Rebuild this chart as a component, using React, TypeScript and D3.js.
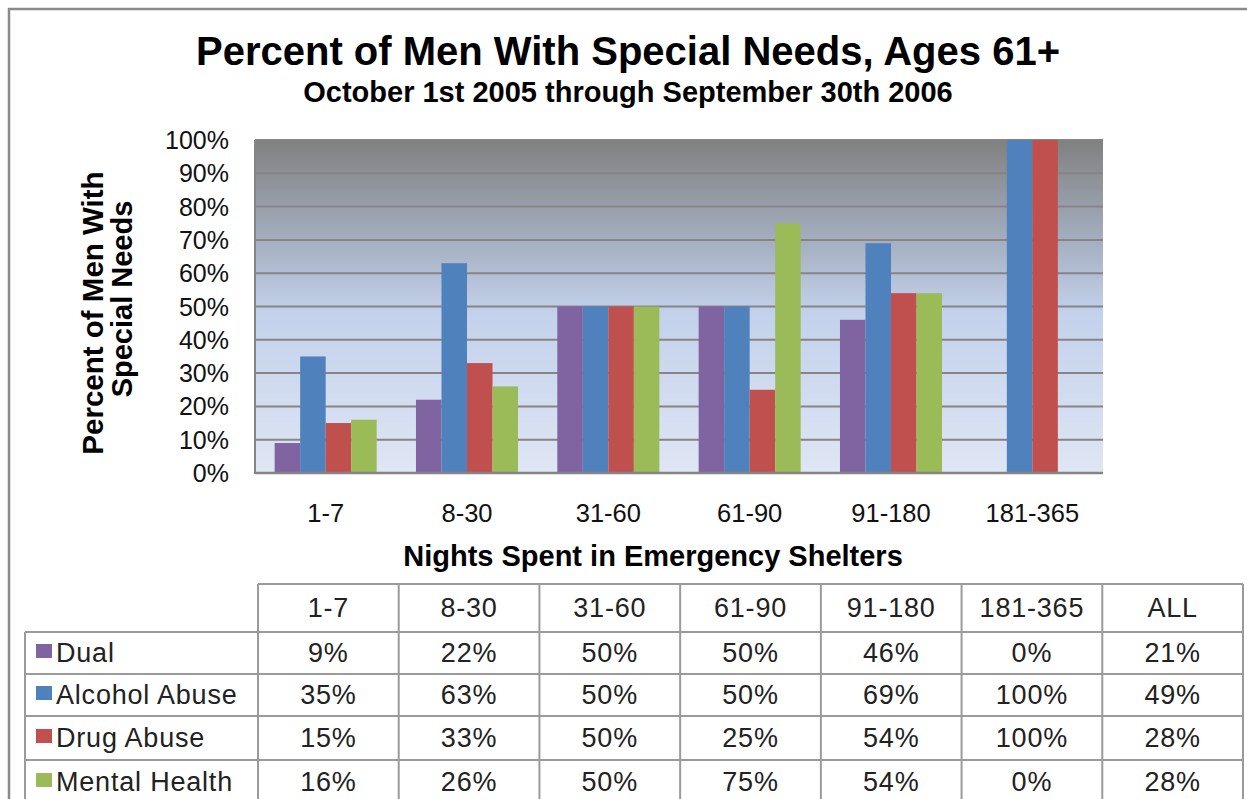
import * as d3 from 'd3';

const categories = ['1-7', '8-30', '31-60', '61-90', '91-180', '181-365'];
const tableCols = [...categories, 'ALL'];
const seriesNames = ['Dual', 'Alcohol Abuse', 'Drug Abuse', 'Mental Health'];
const seriesColors = ['#8064a2', '#4f81bd', '#c0504d', '#9bbb59'];

// percent values per series, last entry = ALL column
const dual = [9, 22, 50, 50, 46, 0, 21];
const alcohol = [35, 63, 50, 50, 69, 100, 49];
const drug = [15, 33, 50, 25, 54, 100, 28];
const mental = [16, 26, 50, 75, 54, 0, 28];
const seriesValues = [dual, alcohol, drug, mental];

const yTicks = [0, 10, 20, 30, 40, 50, 60, 70, 80, 90, 100];

const W = 1247, H = 799;
const PLOT = { l: 255, r: 1103, t: 140, b: 473 };
const FONT = '"Liberation Sans", Arial, sans-serif';

export default function App() {
  const x0 = d3.scaleBand<string>().domain(categories).range([PLOT.l, PLOT.r])
    .paddingInner(0.278).paddingOuter(0.139);
  const x1 = d3.scaleBand<string>().domain(seriesNames).range([0, x0.bandwidth()]);
  const y = d3.scaleLinear().domain([0, 100]).range([PLOT.b, PLOT.t]);

  // table geometry
  const colX = d3.scaleBand<string>().domain(tableCols).range([258, 1243]);
  const labelX = 25;
  const rowTops = [584, 632, 674, 716, 760];
  const cellFont = { fontSize: 27, letterSpacing: 0.8, fill: '#222' };

  return (
    <svg width={W} height={H} style={{ position: 'absolute', left: 0, top: 0, fontFamily: FONT }}>
      <defs>
        <linearGradient id="plotBg" x1="0" y1="0" x2="0" y2="1">
          <stop offset="0%" stopColor="#808080" />
          <stop offset="30%" stopColor="#a4aebf" />
          <stop offset="52%" stopColor="#c3d1eb" />
          <stop offset="100%" stopColor="#dfe6f4" />
        </linearGradient>
      </defs>
      <rect x={0} y={0} width={W} height={H} fill="#fff" />
      {/* outer frame */}
      <path d={`M9,${H + 5}V9H${W + 5}`} fill="none" stroke="#8a8a8a" strokeWidth={2.5} />

      {/* titles */}
      <text x={628} y={65} textAnchor="middle" fontSize={40} fontWeight="bold">
        Percent of Men With Special Needs, Ages 61+
      </text>
      <text x={628} y={102} textAnchor="middle" fontSize={29} fontWeight="bold">
        October 1st 2005 through September 30th 2006
      </text>

      {/* plot area */}
      <rect x={PLOT.l} y={PLOT.t} width={PLOT.r - PLOT.l} height={PLOT.b - PLOT.t} fill="url(#plotBg)" />
      {yTicks.map(t => (
        <g key={t}>
          <line x1={PLOT.l} x2={PLOT.r} y1={y(t)} y2={y(t)} stroke="#858585" strokeWidth={2} />
          <text x={229} y={y(t) + 9} textAnchor="end" fontSize={25} fill="#111">{t}%</text>
        </g>
      ))}
      {categories.map((c, ci) => (
        <g key={c} transform={`translate(${x0(c)},0)`}>
          {seriesNames.map((s, si) => {
            const v = seriesValues[si][ci];
            if (!v) return null;
            return (
              <rect key={s} x={x1(s)} y={y(v)} width={x1.bandwidth()} height={y(0) - y(v)}
                fill={seriesColors[si]} />
            );
          })}
        </g>
      ))}
      <line x1={PLOT.l} x2={PLOT.l} y1={PLOT.t} y2={PLOT.b + 1} stroke="#858585" strokeWidth={2} />
      <line x1={PLOT.l} x2={PLOT.r} y1={PLOT.b} y2={PLOT.b} stroke="#858585" strokeWidth={2.5} />

      {categories.map(c => (
        <text key={c} x={(x0(c) ?? 0) + x0.bandwidth() / 2} y={522} textAnchor="middle" fontSize={25.5} fill="#111">{c}</text>
      ))}
      <text x={653} y={566} textAnchor="middle" fontSize={29} fontWeight="bold">
        Nights Spent in Emergency Shelters
      </text>

      {/* y axis title */}
      <g transform="rotate(-90)">
        <text x={-313} y={103} textAnchor="middle" fontSize={29.5} fontWeight="bold">Percent of Men With</text>
        <text x={-299} y={132} textAnchor="middle" fontSize={29} fontWeight="bold">Special Needs</text>
      </g>

      {/* data table */}
      <g stroke="#9a9a9a" strokeWidth={2} fill="none">
        <line x1={258} x2={1243} y1={rowTops[0]} y2={rowTops[0]} />
        {rowTops.slice(1).map(t => (
          <line key={t} x1={labelX} x2={1243} y1={t} y2={t} />
        ))}
        <line x1={labelX} x2={labelX} y1={rowTops[1]} y2={H + 5} />
        {tableCols.map(c => (
          <line key={c} x1={colX(c)} x2={colX(c)} y1={rowTops[0]} y2={H + 5} />
        ))}
        <line x1={1243} x2={1243} y1={rowTops[0]} y2={H + 5} />
      </g>
      {tableCols.map(c => (
        <text key={c} x={(colX(c) ?? 0) + colX.bandwidth() / 2} y={617} textAnchor="middle" {...cellFont}>{c}</text>
      ))}
      {seriesNames.map((s, si) => {
        const top = rowTops[si + 1];
        const bottom = rowTops[si + 2] ?? top + 44;
        const cy = (top + bottom) / 2;
        return (
          <g key={s}>
            <rect x={36} y={cy - 9} width={16} height={14} fill={seriesColors[si]} />
            <text x={56} y={cy + 9} {...cellFont}>{s}</text>
            {seriesValues[si].map((v, ci) => (
              <text key={ci} x={(colX(tableCols[ci]) ?? 0) + colX.bandwidth() / 2} y={cy + 9}
                textAnchor="middle" {...cellFont}>{v}%</text>
            ))}
          </g>
        );
      })}
    </svg>
  );
}
